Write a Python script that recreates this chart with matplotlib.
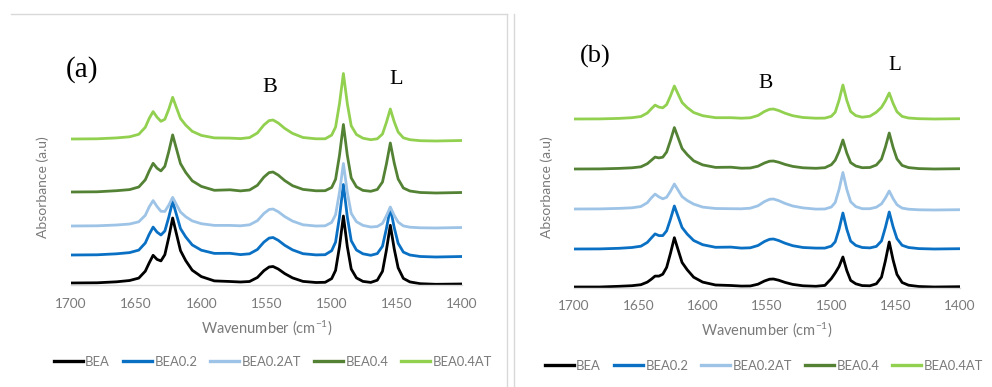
import numpy as np
import matplotlib
matplotlib.use("Agg")
import matplotlib.pyplot as plt
from matplotlib.lines import Line2D

plt.rcParams['font.family'] = ['Lato', 'DejaVu Sans']
plt.rcParams['mathtext.fontset'] = 'custom'
plt.rcParams['mathtext.rm'] = 'Lato'
plt.rcParams['mathtext.it'] = 'Lato:italic'

# wavenumber grid (cm-1)
wn = [1700, 1680, 1665, 1655, 1648, 1643, 1640, 1637, 1634, 1631, 1628, 1625, 1622,
      1619, 1616, 1612, 1607, 1600, 1590, 1578, 1570, 1563, 1557, 1552, 1548, 1545,
      1541, 1536, 1530, 1522, 1512, 1505, 1500, 1497, 1494, 1491, 1488, 1485, 1481,
      1476, 1470, 1465, 1461, 1458, 1455, 1452, 1449, 1445, 1440, 1432, 1420, 1400]

names = ['BEA', 'BEA0.2', 'BEA0.2AT', 'BEA0.4', 'BEA0.4AT']
colors = ['#000000', '#0a70c4', '#9dc3e6', '#548235', '#92d050']

# panel (a) absorbance (arbitrary units, stacked)
a_bea = [2, 2.2, 3.2, 4.5, 6.9, 13.8, 22.1, 29.7, 25.6, 24.1, 30.3, 47.5, 67,
         50.6, 34.4, 24.4, 14.8, 8.4, 4.1, 3.5, 3, 3.5, 7.5, 14.3, 18, 18.5,
         16, 11.4, 7.1, 3.6, 2.5, 2.7, 6.4, 14.6, 38.4, 69, 38.4, 16, 7.1,
         3.6, 2.6, 4.8, 13.7, 34.9, 59.7, 36.1, 17.2, 6.6, 3.1, 1.3, 0.7, 1]
a_bea02 = [30, 30.2, 31.2, 32.4, 34.9, 42, 50.7, 57.9, 52.9, 50, 54, 67.7, 83.6,
           70, 56.4, 48.1, 40.1, 34.8, 31.6, 31.7, 30.4, 31.2, 35.5, 42.9, 46.9, 47.5,
           44.7, 39.7, 35.1, 31.3, 30.1, 30.3, 34.3, 42.9, 68.1, 100.5, 68.1, 44.3, 35,
           31.2, 29.7, 31.4, 38.8, 56.4, 77, 57.4, 41.7, 32.9, 30, 28.5, 28, 28.5]
a_bea02at = [59, 59.2, 60, 61, 63.2, 69.7, 78.1, 84.4, 78.5, 73.7, 73.6, 79.8, 87.6,
             80.2, 73, 68.3, 64.1, 61.3, 59.6, 59.6, 59.2, 60.2, 64.3, 71.5, 75.5, 76,
             73.3, 68.4, 63.9, 60.2, 59, 59.2, 62.6, 70.3, 92.7, 121.5, 92.7, 71.6, 63.3,
             59.6, 58, 58.5, 61.6, 69.2, 78, 69.6, 62.9, 59.1, 57.8, 57.2, 57, 57.5]
a_bea04 = [93, 93.2, 94.3, 95.4, 98, 105.2, 114, 121.7, 116.8, 114.1, 118.7, 133.3, 150.1,
           135.7, 121.4, 112.6, 104.2, 98.6, 94.7, 95.2, 94.1, 95, 99.7, 107.9, 112.4, 113,
           109.9, 104.4, 99.3, 95.6, 94.2, 94.3, 97.5, 105.7, 129.7, 160.5, 129.7, 107.1, 98.2,
           94.6, 93.7, 95.5, 103, 121, 142, 122, 106, 97, 94, 92.5, 92, 92.5]
a_bea04at = [146, 146.2, 147.1, 148.2, 150.7, 157.7, 166.6, 173.4, 167.8, 163.7, 165.7, 175.7, 187.7,
             177, 166.5, 159.9, 153.7, 149.6, 147.1, 146.9, 146.4, 147.4, 152, 160, 164.4, 165,
             162, 156.6, 151.6, 147.5, 146.2, 146.2, 149.9, 157.9, 181.4, 211.5, 181.4, 159.2, 150.5,
             146.8, 145.3, 146.2, 151, 162.6, 176, 163.2, 153, 147.2, 145.3, 144.3, 144, 144.5]

# panel (b)
b_bea = [1, 1, 1.7, 2.3, 3.3, 5.9, 8.7, 11.9, 11.9, 13.8, 20.6, 34.8, 50.3,
         37.8, 25.5, 18.2, 10.8, 5.9, 3, 2.5, 1.9, 2, 3.8, 7, 8.8, 9,
         7.8, 5.6, 3.6, 2.2, 1.7, 2.6, 9.4, 15, 21.5, 31, 17.5, 7.6, 4.2,
         2.4, 2.2, 4.2, 10.9, 27.1, 46, 28, 13.6, 5.5, 2.8, 1.5, 1, 1.3]
b_bea02 = [39, 39.1, 39.7, 40.5, 41.8, 45.6, 49.9, 54.1, 52.4, 52.4, 57.2, 68.9, 82,
           71.2, 60.5, 53.9, 47.5, 43.3, 40.7, 40.9, 39.9, 40.2, 42.5, 46.5, 48.7, 49,
           47.5, 44.8, 42.3, 40.5, 39.9, 39.9, 41.9, 46.2, 58.8, 75, 58.8, 46.9, 42.6,
           40.5, 40.1, 41.6, 47.1, 60.5, 76, 61.2, 49.4, 42.7, 40.5, 39.4, 39, 39.3]
b_bea02at = [79, 79.1, 79.6, 80.2, 81.5, 85.3, 90, 93.9, 91.1, 89.2, 90.7, 96.8, 104,
             97.7, 91.4, 87.5, 83.9, 80.9, 79.5, 79.3, 79.2, 79.8, 82.2, 86.4, 88.7, 89,
             87.4, 84.6, 82, 80.1, 78.9, 79, 81, 85.5, 98.6, 115.5, 98.6, 86.3, 81.4,
             79.3, 79.3, 80.8, 84.2, 90, 97, 89.4, 83.3, 79.9, 78.8, 78.2, 78, 78.3]
b_bea04 = [119, 119.1, 119.6, 120.2, 121.2, 124.3, 127.6, 130.9, 130.1, 130.8, 136, 147.6, 160.4,
           150, 139.5, 133.4, 127.2, 123.1, 120.6, 120.8, 119.8, 120, 121.8, 125, 126.8, 127,
           125.8, 123.6, 121.6, 120.2, 119.7, 120.3, 123.3, 127.8, 136.5, 148, 135, 125.4, 122,
           120.3, 120.5, 123, 128.9, 140.9, 155, 140.6, 129.1, 122.6, 120.4, 119.4, 119, 119.3]
b_bea04at = [169, 169.1, 169.6, 170.3, 171.5, 175, 179.1, 182.9, 180.9, 180.2, 183.4, 192.1, 202,
             193.7, 185.5, 180.4, 175.5, 172.3, 170.3, 170.3, 169.8, 170.2, 172.5, 176.5, 178.7, 179,
             177.5, 174.8, 172.3, 170.5, 169.8, 169.9, 171.7, 175.8, 187.7, 203, 187.7, 176.5, 172.4,
             170.8, 171.8, 175.8, 180.7, 187.1, 195, 184.6, 176.3, 171.6, 170, 169.3, 169, 169.3]

ticks = [1700, 1650, 1600, 1550, 1500, 1450, 1400]

W, H = 992, 387
fig = plt.figure(figsize=(W / 100, H / 100), dpi=100)


def px(x, y):
    return x / W, 1 - y / H


def make_panel(x0, x1, ybase, series, tag, tagpos, bpos, lpos, tagsize, bsize, lsize,
               xlab, ylab, legpos):
    ax = fig.add_axes([x0 / W, (H - ybase) / H, (x1 - x0) / W, 230 / H])
    for vals, name, c in zip(series, names, colors):
        ax.plot(wn, vals, color=c, lw=2.0, label=name, solid_joinstyle='round')
    ax.set_xlim(1700, 1400)
    ax.set_ylim(0, 230)
    for s in ['top', 'right', 'left']:
        ax.spines[s].set_visible(False)
    ax.spines['bottom'].set_color('#d9d9d9')
    ax.spines['bottom'].set_linewidth(1.0)
    ax.set_yticks([])
    ax.set_xticks(ticks)
    ax.set_xticklabels([str(t) for t in ticks])
    ax.tick_params(axis='x', length=0, pad=9, labelsize=9.8, labelcolor='#7a7a7a')
    ax.patch.set_alpha(0)
    fig.text(*px(*tagpos), tag, family='Liberation Serif', fontsize=tagsize,
             ha='center', va='center')
    fig.text(*px(*bpos), 'B', family='Liberation Serif', fontsize=bsize,
             ha='center', va='center')
    fig.text(*px(*lpos), 'L', family='Liberation Serif', fontsize=lsize,
             ha='center', va='center')
    fig.text(*px(*xlab), r'Wavenumber (cm$^{\mathregular{-1}}$)', fontsize=10.5,
             color='#7a7a7a', ha='center', va='center')
    fig.text(*px(*ylab), 'Absorbance (a.u)', fontsize=10, color='#7a7a7a',
             ha='center', va='center', rotation=90)
    handles = [Line2D([], [], color=c, lw=2.4) for c in colors]
    fig.legend(handles, names, loc='center', bbox_to_anchor=px(*legpos), ncol=5,
               frameon=False, fontsize=9.4, handlelength=2.2, handletextpad=0.2,
               columnspacing=1.0, labelcolor='#7a7a7a')
    return ax


make_panel(71, 462, 285, [a_bea, a_bea02, a_bea02at, a_bea04, a_bea04at],
           '(a)', (82, 70), (270, 87), (396, 80), 21, 16, 16,
           (267, 328), (43, 187), (273, 362))
make_panel(574, 960, 288, [b_bea, b_bea02, b_bea02at, b_bea04, b_bea04at],
           '(b)', (595, 56), (766, 83), (895, 66), 19, 15.5, 15,
           (767, 330), (547, 187), (764, 366))

# panel frames
fig.add_artist(Line2D([11 / W, 507 / W], [1 - 14 / H, 1 - 14 / H], color='#d9d9d9', lw=1))
fig.add_artist(Line2D([507 / W, 507 / W], [1 - 14 / H, 0], color='#d9d9d9', lw=1))
fig.add_artist(Line2D([514 / W, 514 / W], [1 - 14 / H, 0], color='#d9d9d9', lw=1))

fig.savefig('out.png', dpi=100)
